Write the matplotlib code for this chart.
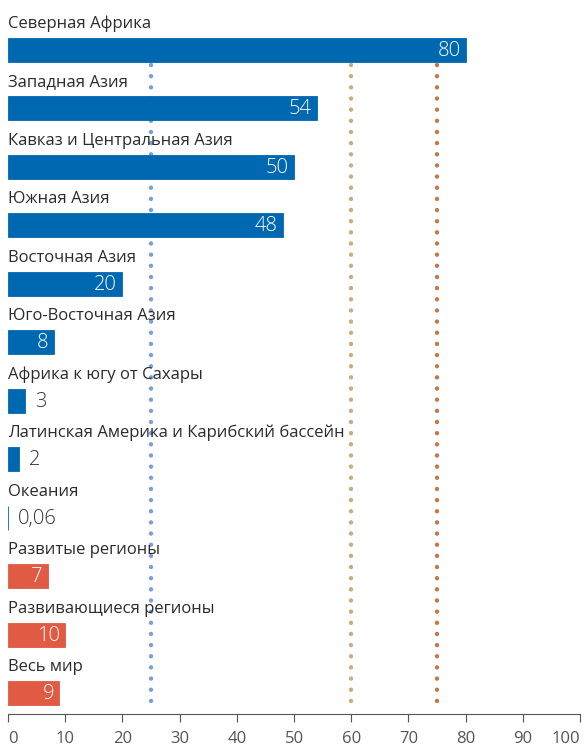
import numpy as np
import matplotlib.pyplot as plt

plt.rcParams['font.family'] = ['Open Sans', 'DejaVu Sans']

regions = ["Северная Африка", "Западная Азия", "Кавказ и Центральная Азия",
           "Южная Азия", "Восточная Азия", "Юго-Восточная Азия",
           "Африка к югу от Сахары", "Латинская Америка и Карибский бассейн",
           "Океания", "Развитые регионы", "Развивающиеся регионы", "Весь мир"]
values = [80, 54, 50, 48, 20, 8, 3, 2, 0.06, 7, 10, 9]
labels = ["80", "54", "50", "48", "20", "8", "3", "2", "0,06", "7", "10", "9"]
is_aggregate = [False] * 9 + [True] * 3

# reference levels drawn as dotted verticals
thresholds = [25, 60, 75]
threshold_colors = ["#7a9fdc", "#c9ad7e", "#c27a4b"]

blue = "#0068b0"
red = "#e05a44"

fig = plt.figure(figsize=(5.85, 7.49), dpi=100)
ax = fig.add_axes([8 / 585, 1 - 714 / 749, 572 / 585, 714 / 749])

pitch = 58.45
y = np.arange(len(values))
ax.set_xlim(0, 100)
ax.set_ylim((714 - 50) / pitch, -50 / pitch)

for xv, c in zip(thresholds, threshold_colors):
    ax.plot([xv, xv], [15 / pitch, 662 / pitch], color=c, lw=3.2,
            linestyle=(0, (0.01, 2.5)), dash_capstyle='round', zorder=1)

colors = [red if a else blue for a in is_aggregate]
ax.barh(y, values, height=24 / pitch, color=colors, edgecolor=colors,
        linewidth=0.6, zorder=2)

for yi, v, lab, name in zip(y, values, labels, regions):
    ax.text(0, yi - 26 / pitch, name, fontsize=12, color="#2b2b2b",
            va="center", ha="left")
    if v >= 7:
        ax.text(v - 0.9, yi + 1 / pitch, lab, fontsize=14.5, color="white",
                va="center", ha="right", fontweight="light", zorder=3)
    else:
        ax.text(v + 1.7, yi + 1 / pitch, lab, fontsize=14.5, color="#333333",
                va="center", ha="left", fontweight="light", zorder=3)

for s in ["top", "right", "left"]:
    ax.spines[s].set_visible(False)
ax.spines["bottom"].set_color("#555555")
ax.spines["bottom"].set_linewidth(0.8)
ax.set_yticks([])
ax.set_xticks(np.arange(0, 101, 10))
ax.tick_params(axis="x", direction="out", length=6, width=0.8, color="#555555",
               labelsize=12, labelcolor="#555555", pad=6)
ax.get_xticklabels()[0].set_ha("left")
ax.get_xticklabels()[-1].set_ha("right")

fig.savefig("out.png", dpi=100)
